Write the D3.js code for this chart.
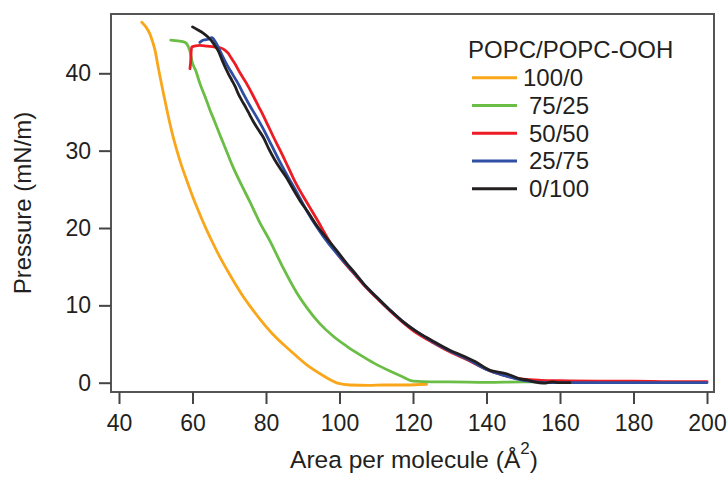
<!DOCTYPE html>
<html><head><meta charset="utf-8">
<script src="https://cdn.jsdelivr.net/npm/d3@7"></script>
<style>
html,body{margin:0;padding:0;background:#fff;}
text{font-family:"Liberation Sans",Arial,Helvetica,sans-serif;fill:#231f20;}
</style></head>
<body><svg id="chart" width="728" height="477"></svg>
<script>
// ---- data ----
const seriesNames = ["100/0", "75/25", "50/50", "25/75", "0/100"];
const seriesColors = ["#f9a61a", "#6abd45", "#ed1c24", "#2e4fa3", "#231f20"];
const legendTitle = "POPC/POPC-OOH";
const xTicks = [40, 60, 80, 100, 120, 140, 160, 180, 200];
const yTicks = [0, 10, 20, 30, 40];

const s100_0 = [[46.2,46.6],[47.3,46.0],[48.4,45.1],[49.2,44.0],[49.8,43.0],[50.5,41.2],[51.2,39.5],[52.1,37.4],[53.2,34.9],[54.4,32.4],[55.7,30.1],[57.0,28.1],[58.4,26.2],[59.7,24.5],[61.1,22.8],[62.5,21.2],[63.9,19.7],[65.7,17.9],[67.5,16.2],[69.5,14.5],[71.6,12.8],[73.7,11.2],[75.8,9.8],[78.4,8.2],[82.0,6.2],[86.5,4.2],[91.1,2.3],[95.6,0.9],[98.0,0.25],[99.7,-0.1],[102.9,-0.3],[108,-0.35],[112,-0.3],[118,-0.3],[123.7,-0.2]];
const s75_25 = [[54.1,44.3],[56.0,44.2],[58.0,44.0],[58.9,43.4],[59.5,42.5],[59.8,41.7],[61.0,40.2],[62.0,38.7],[63.4,37.0],[64.8,35.2],[66.0,33.8],[67.5,32.0],[69.3,29.9],[71.1,27.8],[73.3,25.6],[75.6,23.4],[78,21.0],[81.1,18.3],[84.5,15.0],[88.4,11.6],[91.1,9.7],[94.5,7.7],[98.3,6.0],[102,4.7],[105.6,3.6],[109.5,2.5],[113.7,1.5],[117,0.8],[120.1,0.2],[125,0.1],[130,0.1],[140,0.05],[150,0.1],[155,0.1]];
const s50_50 = [[59.3,40.6],[59.5,41.5],[59.6,42.5],[59.8,43.4],[60.5,43.5],[62,43.6],[64,43.5],[66,43.4],[67.5,43.3],[68.8,43.0],[69.7,42.6],[70.5,42.0],[71.6,41.2],[73,40.0],[74.7,38.7],[76.5,37.1],[78,35.7],[79.3,34.5],[80.6,33.2],[82,31.8],[84,29.9],[86,27.9],[88,25.9],[90,24.2],[92,22.6],[94,21.0],[97,18.5],[100,16.3],[103,14.6],[106.5,12.7],[110,11.0],[113.7,9.3],[117,7.9],[121,6.4],[125,5.3],[130,4.0],[135,2.9],[140,1.7],[145,0.9],[150,0.45],[155,0.3],[160,0.25],[170,0.2],[180,0.2],[190,0.15],[200,0.15]];
const s25_75 = [[62.0,44.0],[63.0,44.3],[64.3,44.4],[65.3,44.6],[66.3,44.0],[67.2,43.2],[68.2,42.2],[69.5,41.0],[71,39.8],[72.5,38.6],[74,37.2],[75.5,35.9],[77.5,34.3],[79.5,32.6],[81.5,30.7],[83.5,28.8],[86,26.6],[88.5,24.5],[91,22.3],[94,20.0],[97,18.0],[100,16.3],[103,14.7],[106.5,12.8],[110,11.1],[113.7,9.4],[117,8.0],[121,6.6],[125,5.4],[130,4.1],[135,3.0],[140,1.7],[145,0.9],[150,0.3],[155,0.05],[160,0.0],[170,0.0],[180,0.0],[190,0.0],[200,0.0]];
const s0_100 = [[60.0,46.0],[61.5,45.6],[62.9,45.2],[64.2,44.7],[65.2,44.2],[66.2,43.5],[67.0,42.9],[67.8,42.0],[68.4,41.3],[69.7,40.0],[70.6,39.2],[71.6,38.3],[72.5,37.3],[73.4,36.5],[74.5,35.6],[75.6,34.6],[76.5,33.8],[77.8,32.8],[79.3,31.7],[80.8,30.2],[82.4,28.8],[84.0,27.6],[85.6,26.5],[87.4,25.0],[89.3,23.5],[91.5,22.0],[94.0,20.2],[96.5,18.7],[99.2,17.1],[102,15.4],[104.5,14.0],[106.5,12.8],[110,11.1],[113.7,9.4],[117,8.0],[121,6.6],[125,5.5],[130,4.2],[134,3.4],[137,2.7],[141,1.6],[144,1.3],[146.4,1.0],[149,0.5],[151,0.35],[153,0.1],[155.5,-0.05],[158,0.1],[160,0.0],[162.7,0.0]];
const seriesData = [s100_0, s75_25, s50_50, s25_75, s0_100];

// ---- drawing ----
const svg = d3.select("#chart");
const frame = {left:111, top:14, right:714, bottom:392};
const x = d3.scaleLinear().domain([40,200]).range([119,707]);
const y = d3.scaleLinear().domain([0,40]).range([382.7,73.3]);

// frame
svg.append("rect").attr("x",frame.left).attr("y",frame.top)
  .attr("width",frame.right-frame.left).attr("height",frame.bottom-frame.top)
  .attr("fill","none").attr("stroke","#555").attr("stroke-width",2);

// axes
const xAxis = d3.axisBottom(x).tickValues(xTicks).tickSize(12).tickPadding(11).tickFormat(d3.format("d"));
const gx = svg.append("g").attr("transform",`translate(0,${frame.bottom})`).call(xAxis);
const yAxis = d3.axisLeft(y).tickValues(yTicks).tickSize(12).tickPadding(8).tickFormat(d3.format("d"));
const gy = svg.append("g").attr("transform",`translate(${frame.left},0)`).call(yAxis);
[gx,gy].forEach(g=>{
  g.select(".domain").remove();
  g.selectAll(".tick line").attr("stroke","#444").attr("stroke-width",2);
  g.selectAll(".tick text").attr("font-size",23).attr("fill","#231f20")
   .attr("font-family","'Liberation Sans',Arial,sans-serif");
});

// lines
const lineGen = d3.line().x(d=>x(d[0])).y(d=>y(d[1])).curve(d3.curveMonotoneX);
seriesData.forEach((s,i)=>{
  svg.append("path").datum(s).attr("d",lineGen).attr("fill","none")
    .attr("stroke",seriesColors[i]).attr("stroke-width",2.8)
    .attr("stroke-linejoin","round").attr("stroke-linecap","round");
});

// axis titles
const xt = svg.append("text").attr("x",414).attr("y",468).attr("text-anchor","middle").attr("font-size",24.5);
xt.append("tspan").text("Area per molecule (Å");
xt.append("tspan").attr("dy",-14).attr("font-size",17).text("2");
xt.append("tspan").attr("dy",14).text(")");
svg.append("text").attr("transform","translate(31,203) rotate(-90)").attr("text-anchor","middle")
  .attr("font-size",24).text("Pressure (mN/m)");

// legend
svg.append("text").attr("x",468).attr("y",58).attr("font-size",24).text(legendTitle);
seriesNames.forEach((n,i)=>{
  const ly = 77.7 + i*27.75;
  svg.append("line").attr("x1",472).attr("x2",517).attr("y1",ly).attr("y2",ly)
    .attr("stroke",seriesColors[i]).attr("stroke-width",3);
  svg.append("text").attr("x", i===0 ? 523 : 529).attr("y",ly+8.5).attr("font-size",24).text(n);
});
</script></body></html>
